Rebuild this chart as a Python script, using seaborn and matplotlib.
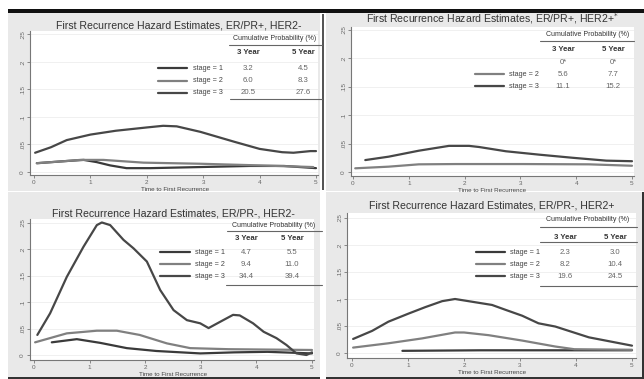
import matplotlib
matplotlib.use("Agg")
import matplotlib.pyplot as plt
from matplotlib.patches import Rectangle
from matplotlib.lines import Line2D
import seaborn as sns
import pandas as pd

# ---------------- data ----------------
titles = ["First Recurrence Hazard Estimates, ER/PR+, HER2-",
          "First Recurrence Hazard Estimates, ER/PR+, HER2+",
          "First Recurrence Hazard Estimates, ER/PR-, HER2-",
          "First Recurrence Hazard Estimates, ER/PR-, HER2+"]
x_label = "Time to First Recurrence"
x_ticks = [0, 1, 2, 3, 4, 5]
y_ticks = [0, 0.05, 0.10, 0.15, 0.20, 0.25]
y_tick_labels = ["0", ".05", ".1", ".15", ".2", ".25"]
stages = ["stage = 1", "stage = 2", "stage = 3"]

# panel 1: ER/PR+, HER2-
p1_s1_x = [0.05, 0.58, 0.88, 1.11, 1.35, 1.64, 2.06, 2.95, 3.83, 4.43, 5.0]
p1_s1_y = [0.016, 0.020, 0.022, 0.018, 0.012, 0.007, 0.007, 0.009, 0.011, 0.011, 0.007]
p1_s2_x = [0.05, 0.58, 0.82, 1.23, 1.94, 2.95, 4.0, 4.95]
p1_s2_y = [0.016, 0.020, 0.022, 0.022, 0.017, 0.015, 0.012, 0.009]
p1_s3_x = [0.02, 0.3, 0.58, 1.0, 1.45, 2.0, 2.29, 2.53, 2.95, 3.55, 4.0, 4.4, 4.6, 4.9, 5.0]
p1_s3_y = [0.035, 0.045, 0.058, 0.068, 0.075, 0.081, 0.084, 0.083, 0.073, 0.055, 0.042, 0.036, 0.035, 0.038, 0.038]

# panel 2: ER/PR+, HER2+ (no stage 1 events)
p2_s2_x = [0.04, 0.64, 1.18, 1.84, 3.03, 4.23, 5.0]
p2_s2_y = [0.0065, 0.0094, 0.0135, 0.014, 0.014, 0.0135, 0.011]
p2_s3_x = [0.22, 0.64, 1.18, 1.72, 2.08, 2.26, 2.74, 3.34, 3.94, 4.54, 5.0]
p2_s3_y = [0.021, 0.027, 0.0375, 0.046, 0.046, 0.044, 0.0365, 0.0305, 0.025, 0.020, 0.019]

# panel 3: ER/PR-, HER2-
p3_s1_x = [0.32, 0.77, 1.19, 1.67, 2.2, 2.99, 3.6, 4.2, 5.0]
p3_s1_y = [0.024, 0.030, 0.023, 0.013, 0.0076, 0.003, 0.005, 0.006, 0.003]
p3_s2_x = [0.02, 0.59, 1.13, 1.49, 1.9, 2.39, 2.81, 3.5, 5.0]
p3_s2_y = [0.024, 0.041, 0.046, 0.046, 0.038, 0.022, 0.013, 0.011, 0.0095]
p3_s3_x = [0.06, 0.29, 0.59, 0.89, 1.13, 1.22, 1.37, 1.61, 1.79, 2.03, 2.27, 2.51, 2.75,
           2.99, 3.14, 3.35, 3.58, 3.7, 3.94, 4.13, 4.36, 4.54, 4.72, 4.9, 5.0]
p3_s3_y = [0.038, 0.079, 0.148, 0.205, 0.246, 0.251, 0.246, 0.218, 0.202, 0.177, 0.123, 0.085, 0.066,
           0.060, 0.051, 0.063, 0.076, 0.075, 0.060, 0.044, 0.032, 0.019, 0.003, 0.0, 0.005]

# panel 4: ER/PR-, HER2+
p4_s1_x = [0.9, 2.3, 5.0]
p4_s1_y = [0.004, 0.005, 0.005]
p4_s2_x = [0.02, 0.65, 1.25, 1.84, 2.0, 2.44, 3.04, 3.63, 3.97, 5.0]
p4_s2_y = [0.010, 0.018, 0.027, 0.038, 0.038, 0.033, 0.023, 0.012, 0.007, 0.006]
p4_s3_x = [0.02, 0.36, 0.65, 1.01, 1.31, 1.61, 1.84, 2.14, 2.5, 2.74, 3.04, 3.33, 3.63, 3.93, 4.23, 4.58, 5.0]
p4_s3_y = [0.026, 0.041, 0.058, 0.073, 0.085, 0.096, 0.100, 0.095, 0.089, 0.080, 0.069, 0.055, 0.049,
           0.039, 0.029, 0.022, 0.0136]

# cumulative probability tables (3 year, 5 year)
p1_table = [["3.2", "4.5"], ["6.0", "8.3"], ["20.5", "27.6"]]
p2_table = [["0*", "0*"], ["5.6", "7.7"], ["11.1", "15.2"]]
p3_table = [["4.7", "5.5"], ["9.4", "11.0"], ["34.4", "39.4"]]
p4_table = [["2.3", "3.0"], ["8.2", "10.4"], ["19.6", "24.5"]]

# ---------------- style ----------------
sns.set_theme(style="white")
FONT = ["Liberation Sans", "DejaVu Sans"]
plt.rcParams["font.family"] = FONT

W, H = 644, 379
fig = plt.figure(figsize=(W / 100, H / 100), dpi=100)
fig.patch.set_facecolor("white")

def fx(px):
    return px / W

def fy(py):
    return 1 - py / H

palette = {"stage = 1": "#3a3a3a", "stage = 2": "#808080", "stage = 3": "#474747"}
BG = "#e9e9e9"

# panel backgrounds
for (l, t, r, b) in [(8, 12, 320, 191), (326, 12, 644, 191), (8, 192, 320, 378), (326, 192, 642, 378)]:
    fig.add_artist(Rectangle((fx(l), fy(b)), (r - l) / W, (b - t) / H, transform=fig.transFigure,
                             facecolor=BG, edgecolor="none", zorder=0))
# black bar at top and dark borders
fig.add_artist(Rectangle((fx(8), fy(12.5)), (W - 8) / W, 3.5 / H, transform=fig.transFigure,
                         facecolor="#111111", edgecolor="none", zorder=1))
fig.add_artist(Rectangle((fx(8), fy(379)), (320 - 8) / W, 2 / H, transform=fig.transFigure,
                         facecolor="#333333", edgecolor="none", zorder=1))
fig.add_artist(Rectangle((fx(326), fy(379)), (644 - 326) / W, 2 / H, transform=fig.transFigure,
                         facecolor="#333333", edgecolor="none", zorder=1))
fig.add_artist(Rectangle((fx(642), fy(379)), 2 / W, (379 - 192) / H, transform=fig.transFigure,
                         facecolor="#333333", edgecolor="none", zorder=1))
fig.add_artist(Rectangle((fx(322), fy(190)), 1.5 / W, (190 - 14) / H, transform=fig.transFigure,
                         facecolor="#555555", edgecolor="none", zorder=1))

panels = [
    dict(box=(30, 31, 318, 175), x0=34, x5=316, y0=172, y25=34.5,
         series=[("stage = 1", p1_s1_x, p1_s1_y), ("stage = 2", p1_s2_x, p1_s2_y), ("stage = 3", p1_s3_x, p1_s3_y)],
         title_xy=(179, 25), xlab_y=189.5,
         table=p1_table, rows=[True, True, True],
         cum_xy=(275, 39), cum_line=(229, 322, 44.5), yr_y=53, col_x=(248, 303),
         row_y=(68, 80.5, 93), bot_line=(230, 322, 98.5), leg_x=(158, 187), lab_x=193),
    dict(box=(351, 27, 634, 176), x0=353, x5=632, y0=172, y25=30,
         series=[("stage = 2", p2_s2_x, p2_s2_y), ("stage = 3", p2_s3_x, p2_s3_y)],
         title_xy=(492, 19), xlab_y=190,
         table=p2_table, rows=[False, True, True],
         cum_xy=(588, 34), cum_line=(540, 634, 41), yr_y=49.5, col_x=(563, 613),
         row_y=(62, 74, 86), bot_line=None, leg_x=(475, 504), lab_x=509),
    dict(box=(30, 219, 314, 360), x0=34, x5=312, y0=355, y25=223,
         series=[("stage = 1", p3_s1_x, p3_s1_y), ("stage = 2", p3_s2_x, p3_s2_y), ("stage = 3", p3_s3_x, p3_s3_y)],
         title_xy=(173, 213), xlab_y=374.5,
         table=p3_table, rows=[True, True, True],
         cum_xy=(274, 225), cum_line=(227, 322, 231), yr_y=239, col_x=(246, 292),
         row_y=(252, 264, 276), bot_line=(226, 322, 285), leg_x=(160, 190), lab_x=195),
    dict(box=(347, 213, 636, 358), x0=352, x5=632, y0=353, y25=218,
         series=[("stage = 1", p4_s1_x, p4_s1_y), ("stage = 2", p4_s2_x, p4_s2_y), ("stage = 3", p4_s3_x, p4_s3_y)],
         title_xy=(492, 206), xlab_y=373,
         table=p4_table, rows=[True, True, True],
         cum_xy=(588, 219), cum_line=(540, 637, 227), yr_y=237, col_x=(565, 615),
         row_y=(252, 264, 276), bot_line=(540, 637, 286), leg_x=(476, 505), lab_x=510,
         mid_line=(540, 637, 242)),
]

def hline(x1, x2, y, color="#666666", lw=0.8):
    fig.add_artist(Line2D([fx(x1), fx(x2)], [fy(y), fy(y)], transform=fig.transFigure,
                          color=color, lw=lw, zorder=5))

for i, p in enumerate(panels):
    l, t, r, b = p["box"]
    ax = fig.add_axes([fx(l), fy(b), (r - l) / W, (b - t) / H])
    ux = (p["x5"] - p["x0"]) / 5.0
    uy = (p["y0"] - p["y25"]) / 0.25
    ax.set_xlim((l - p["x0"]) / ux, (r - p["x0"]) / ux)
    ax.set_ylim((p["y0"] - b) / uy, (p["y0"] - t) / uy)

    frames = []
    for name, xs, ys in p["series"]:
        frames.append(pd.DataFrame({"t": xs, "h": ys, "stage": name}))
    df = pd.concat(frames, ignore_index=True)
    sns.lineplot(data=df, x="t", y="h", hue="stage", palette=palette, estimator=None,
                 sort=False, lw=1.6, legend=False, ax=ax)

    ax.set_facecolor("white")
    for s in ["top", "right"]:
        ax.spines[s].set_visible(False)
    for s in ["left", "bottom"]:
        ax.spines[s].set_color("#777777")
        ax.spines[s].set_linewidth(0.8)
    ax.set_xticks(x_ticks)
    ax.set_xticklabels([str(v) for v in x_ticks])
    ax.set_yticks(y_ticks)
    ax.set_yticklabels(y_tick_labels, rotation=90, va="center")
    ax.tick_params(axis="both", labelsize=4.6, length=2, width=0.6, colors="#777777",
                   labelcolor="#666666", pad=1.5, left=True, bottom=True)
    ax.yaxis.grid(True, color="#eeeeee", lw=0.6)
    ax.xaxis.grid(False)
    ax.set_xlabel("")
    ax.set_ylabel("")

    # title
    tx, ty = p["title_xy"]
    title = titles[i]
    fig.text(fx(tx), fy(ty), title + ("$^{*}$" if i == 1 else ""), ha="center", va="center",
             fontsize=7.6, color="#333333")
    # x label
    fig.text(fx((p["x0"] + p["x5"]) / 2), fy(p["xlab_y"]), x_label, ha="center", va="center",
             fontsize=4.5, color="#444444")

    # table
    cx, cy = p["cum_xy"]
    fig.text(fx(cx), fy(cy), "Cumulative Probability (%)", ha="center", va="center",
             fontsize=5.0, color="#333333")
    hline(*p["cum_line"])
    if "mid_line" in p:
        hline(*p["mid_line"])
    fig.text(fx(p["col_x"][0]), fy(p["yr_y"]), "3 Year", ha="center", va="center",
             fontsize=5.6, fontweight="bold", color="#333333")
    fig.text(fx(p["col_x"][1]), fy(p["yr_y"]), "5 Year", ha="center", va="center",
             fontsize=5.6, fontweight="bold", color="#333333")
    for k, vals in enumerate(p["table"]):
        yy = p["row_y"][k]
        fig.text(fx(p["col_x"][0]), fy(yy), vals[0], ha="center", va="center", fontsize=5.6, color="#666666")
        fig.text(fx(p["col_x"][1]), fy(yy), vals[1], ha="center", va="center", fontsize=5.6, color="#666666")
        if p["rows"][k]:
            name = stages[k]
            fig.add_artist(Line2D([fx(p["leg_x"][0]), fx(p["leg_x"][1])], [fy(yy), fy(yy)],
                                  transform=fig.transFigure, color=palette[name], lw=1.6, zorder=5))
            fig.text(fx(p["lab_x"]), fy(yy), name, ha="left", va="center", fontsize=5.2, color="#444444")
    if p["bot_line"] is not None:
        hline(*p["bot_line"])

fig.savefig("out.png", dpi=100, facecolor=fig.get_facecolor())
